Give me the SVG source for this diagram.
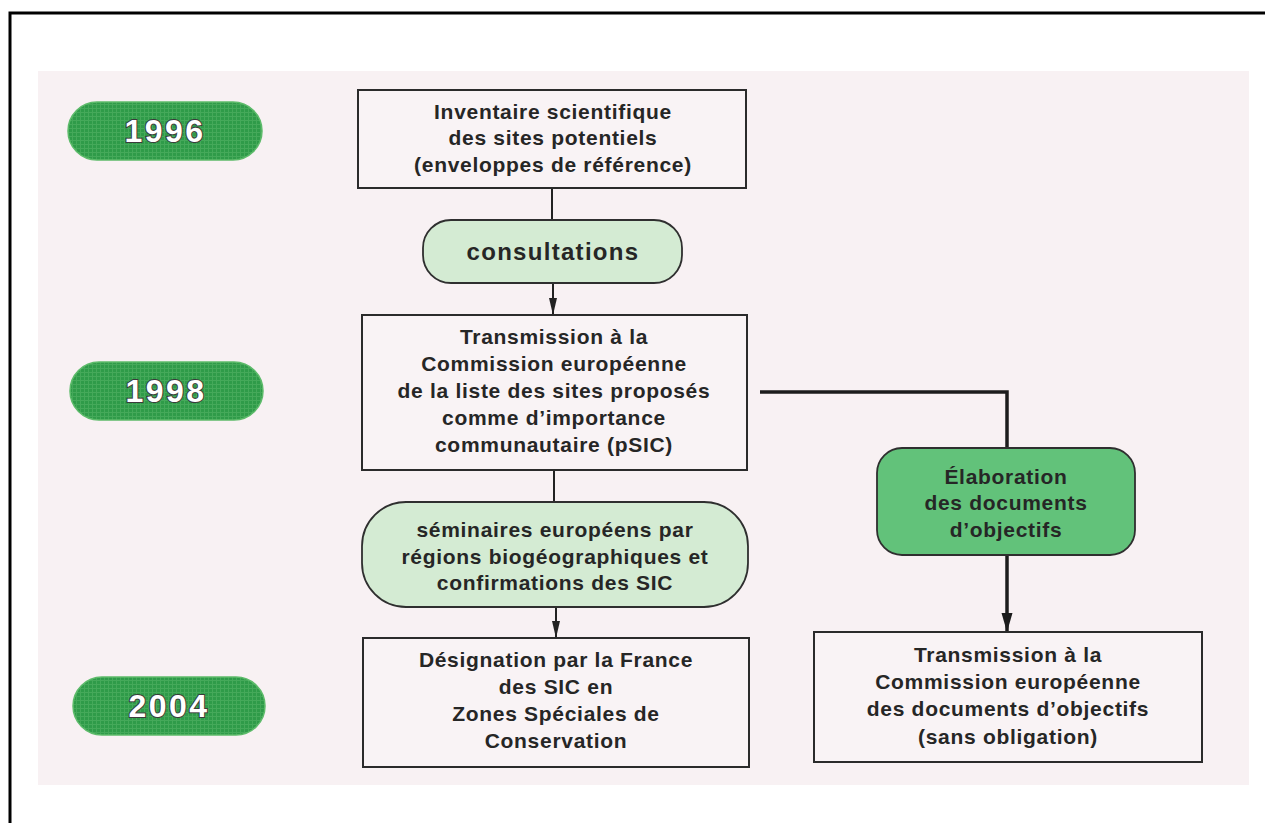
<svg xmlns="http://www.w3.org/2000/svg" width="1265" height="823" viewBox="0 0 1265 823">
  <defs>
    <style>
      .box { fill: #f9f3f5; stroke: #2b2b2b; stroke-width: 2; }
      .soft { fill: #d4ebd3; stroke: #2f2f2f; stroke-width: 1.8; }
      .strong { fill: #62c27a; stroke: #2f2f2f; stroke-width: 1.8; }
      .year { fill: url(#dots); stroke: #5dbb6a; stroke-width: 1.5; }
      .t { font-family: "Liberation Sans", Arial, sans-serif; font-weight: bold; font-size: 21px; letter-spacing: 0.7px; fill: #262626; text-anchor: middle; }
      .big { font-size: 24px; letter-spacing: 1.3px; }
      .yt { font-family: "Liberation Sans", Arial, sans-serif; font-weight: bold; font-size: 32px; letter-spacing: 2.5px; fill: #ffffff; stroke: #3a3a3a; stroke-width: 2px; paint-order: stroke; text-anchor: middle; }
      .thin { fill: none; stroke: #222; stroke-width: 2; }
      .thick { fill: none; stroke: #1c1c1c; stroke-width: 3.5; }
    </style>
    <pattern id="dots" width="4" height="4" patternUnits="userSpaceOnUse">
      <rect width="4" height="4" fill="#2f9b49"/>
      <rect width="4" height="1" fill="#45a95a"/>
      <rect width="1" height="4" fill="#45a95a"/>
    </pattern>
    <marker id="arr" markerUnits="userSpaceOnUse" markerWidth="18" markerHeight="10" refX="17" refY="4.5" orient="auto">
      <path d="M0,0.5 L17,4.5 L0,8.5 z" fill="#222"/>
    </marker>
    <marker id="arrB" markerUnits="userSpaceOnUse" markerWidth="20" markerHeight="12" refX="19" refY="5.5" orient="auto">
      <path d="M0,0 L19,5.5 L0,11 z" fill="#1c1c1c"/>
    </marker>
  </defs>

  <!-- page frame -->
  <rect x="0" y="0" width="1265" height="823" fill="#ffffff"/>
  <path d="M10,823 L10,13 L1265,13" fill="none" stroke="#000" stroke-width="3"/>
  <rect x="38" y="71" width="1211" height="714" fill="#f8f1f3"/>

  <!-- year labels -->
  <g id="y1996">
    <rect class="year" x="68" y="102" width="194" height="58" rx="29"/>
    <text class="yt" x="165" y="142">1996</text>
  </g>
  <g id="y1998">
    <rect class="year" x="70" y="362" width="193" height="58" rx="29"/>
    <text class="yt" x="166" y="402">1998</text>
  </g>
  <g id="y2004">
    <rect class="year" x="73" y="677" width="192" height="58" rx="29"/>
    <text class="yt" x="169" y="717">2004</text>
  </g>

  <!-- connectors -->
  <g id="connectors">
    <line class="thin" x1="552" y1="188" x2="552" y2="220"/>
    <line class="thin" x1="553" y1="283" x2="553" y2="315" marker-end="url(#arr)"/>
    <line class="thin" x1="554" y1="470" x2="554" y2="502"/>
    <line class="thin" x1="556" y1="607" x2="556" y2="638" marker-end="url(#arr)"/>
    <path class="thick" d="M760,392 L1007,392 L1007,448"/>
    <line class="thick" x1="1007" y1="555" x2="1007" y2="632" marker-end="url(#arrB)"/>
  </g>

  <g id="inventaire">
    <rect class="box" x="358" y="90" width="388" height="98"/>
    <text class="t" x="553" y="119">Inventaire scientifique</text>
    <text class="t" x="553" y="145">des sites potentiels</text>
    <text class="t" x="553" y="172">(enveloppes de référence)</text>
  </g>

  <g id="consultations">
    <rect class="soft" x="423" y="220" width="259" height="63" rx="28"/>
    <text class="t big" x="553" y="260">consultations</text>
  </g>

  <g id="transmission">
    <rect class="box" x="362" y="315" width="385" height="155"/>
    <text class="t" x="554" y="344">Transmission à la</text>
    <text class="t" x="554" y="371">Commission européenne</text>
    <text class="t" x="554" y="398">de la liste des sites proposés</text>
    <text class="t" x="554" y="425">comme d’importance</text>
    <text class="t" x="554" y="452">communautaire (pSIC)</text>
  </g>

  <g id="seminaires">
    <rect class="soft" x="362" y="502" width="386" height="105" rx="44"/>
    <text class="t" x="555" y="537">séminaires européens par</text>
    <text class="t" x="555" y="564">régions biogéographiques et</text>
    <text class="t" x="555" y="590">confirmations des SIC</text>
  </g>

  <g id="designation">
    <rect class="box" x="363" y="638" width="386" height="129"/>
    <text class="t" x="556" y="667">Désignation par la France</text>
    <text class="t" x="556" y="694">des SIC en</text>
    <text class="t" x="556" y="721">Zones Spéciales de</text>
    <text class="t" x="556" y="748">Conservation</text>
  </g>

  <g id="elaboration">
    <rect class="strong" x="877" y="448" width="258" height="107" rx="25"/>
    <text class="t" x="1006" y="484">Élaboration</text>
    <text class="t" x="1006" y="510">des documents</text>
    <text class="t" x="1006" y="537">d’objectifs</text>
  </g>

  <g id="transmission-docob">
    <rect class="box" x="814" y="632" width="388" height="130"/>
    <text class="t" x="1008" y="662">Transmission à la</text>
    <text class="t" x="1008" y="689">Commission européenne</text>
    <text class="t" x="1008" y="716">des documents d’objectifs</text>
    <text class="t" x="1008" y="744">(sans obligation)</text>
  </g>
</svg>
